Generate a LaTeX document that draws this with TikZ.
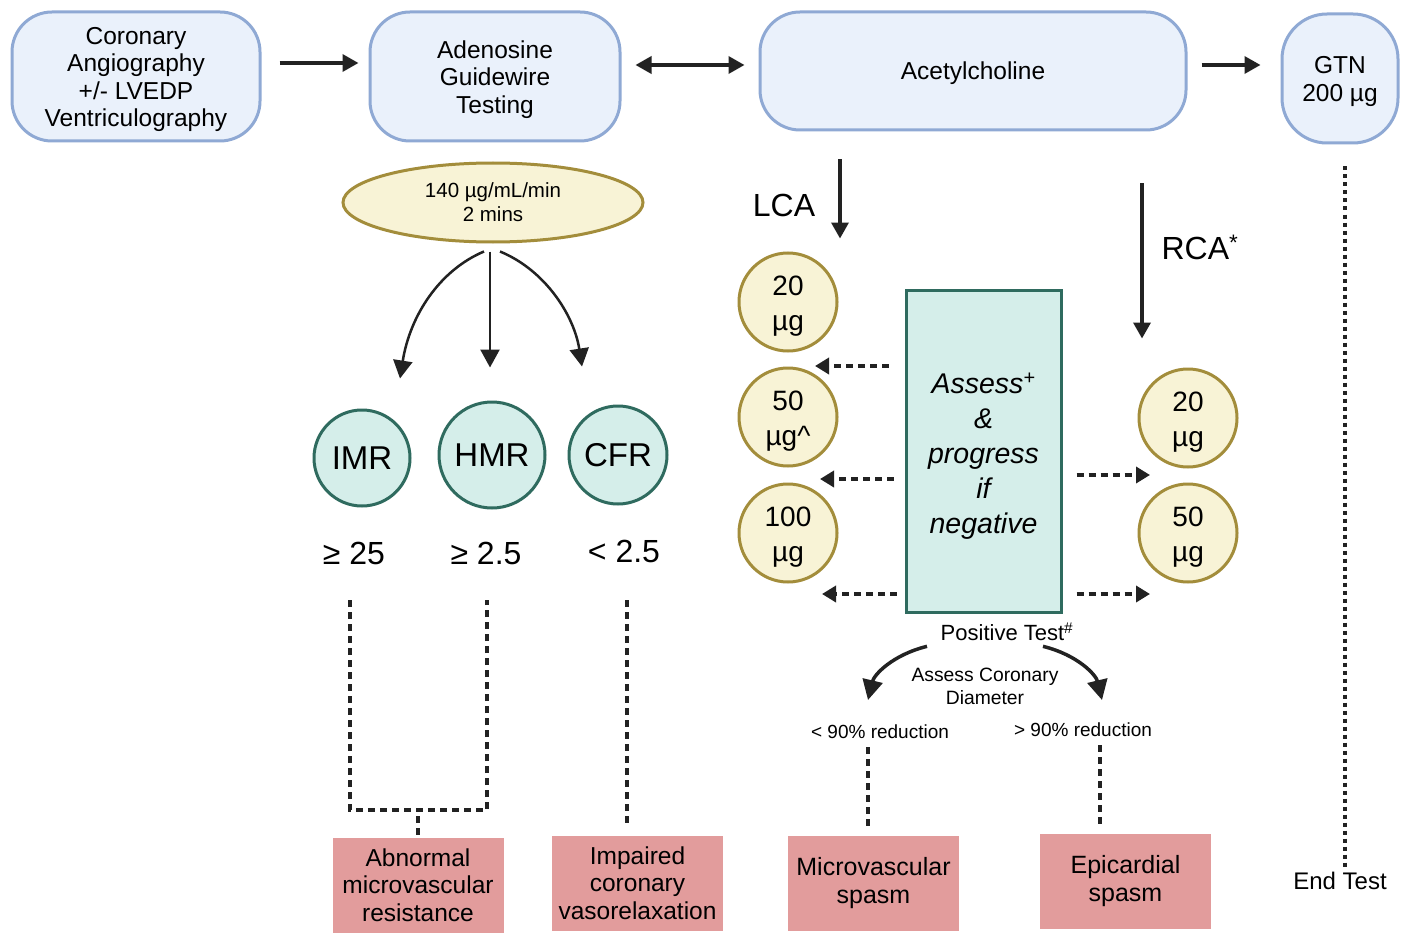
\documentclass[tikz,border=0pt]{standalone}
\usepackage{fontspec}
\setmainfont{Liberation Sans}
\usetikzlibrary{arrows.meta,shapes.geometric}
\definecolor{bfill}{HTML}{EAF1FB}
\definecolor{bdraw}{HTML}{8FA9D4}
\definecolor{yfill}{HTML}{F8F3D6}
\definecolor{ydraw}{HTML}{A38D3B}
\definecolor{tfill}{HTML}{D5EEEA}
\definecolor{tdraw}{HTML}{2F6B5F}
\definecolor{pfill}{HTML}{E29C9C}
\definecolor{ink}{HTML}{222222}
\tikzset{
  bluebox/.style={draw=bdraw, fill=bfill, line width=3pt, rounded corners=40pt, inner sep=0pt},
  yelcirc/.style={circle, draw=ydraw, fill=yfill, line width=3pt, minimum size=98pt, inner sep=0pt},
  dosetxt/.style={align=center, inner sep=0pt, font=\fontsize{28}{35}\selectfont},
  tealcirc/.style={circle, draw=tdraw, fill=tfill, line width=3pt, inner sep=0pt, font=\fontsize{33}{36}\selectfont},
  pinkbox/.style={fill=pfill, minimum width=171pt, minimum height=95pt, align=center, inner sep=0pt},
  arr/.style={ink, line width=3.5pt, -{Triangle[length=16pt,width=17pt]}},
  darr/.style={ink, line width=3.5pt, dash pattern=on 7pt off 5pt, -{Triangle[length=14pt,width=16pt]}},
  dline/.style={ink, line width=3.5pt, dash pattern=on 7pt off 5pt},
  cline/.style={ink, line width=2.5pt, -{Triangle[length=18pt,width=19pt]}},
  lbl/.style={align=center, inner sep=0pt},
  btxt/.style={align=center, inner sep=0pt, font=\fontsize{24.5}{27.5}\selectfont},
}
\begin{document}
\begin{tikzpicture}[x=1pt,y=-1pt]
\path[use as bounding box, fill=white] (0,0) rectangle (1410,944);

% top row
\node[bluebox, minimum width=248pt, minimum height=129pt] (cor) at (136,76.5) {};
\node[btxt] at ([yshift=-3pt]cor.center) {Coronary\\Angiography\\+/- LVEDP\\Ventriculography};
\node[bluebox, minimum width=250pt, minimum height=129pt] (ade) at (495,76.5) {};
\node[btxt] at ([yshift=-3pt]ade.center) {Adenosine\\Guidewire\\Testing};
\node[bluebox, minimum width=426pt, minimum height=118pt] (ach) at (973,71) {};
\node[btxt] at ([yshift=-2pt]ach.center) {Acetylcholine};
\node[bluebox, minimum width=116pt, minimum height=129pt, rounded corners=45pt] (gtn) at (1340,78.5) {};
\node[btxt] at ([yshift=-3pt]gtn.center) {GTN\\200 µg};

\draw[arr, shorten <=18pt, shorten >=10pt] (cor.east |- 0,63) -- (ade.west |- 0,63);
\draw[ink, line width=3.5pt, {Triangle[length=16pt,width=17pt]}-{Triangle[length=16pt,width=17pt]}, shorten <=14pt, shorten >=14pt] (ade.east |- 0,65) -- (ach.west |- 0,65);
\draw[arr, shorten <=14pt, shorten >=20pt] (ach.east |- 0,65) -- (gtn.west |- 0,65);

% adenosine branch
\node[ellipse, draw=ydraw, fill=yfill, line width=3pt, minimum width=300pt, minimum height=79pt, align=center, inner sep=0pt, font=\fontsize{20.5}{24}\selectfont] (ell) at (493,202.5) {140 µg/mL/min\\2 mins};

\node[tealcirc, minimum size=96pt] (imr) at (362,458) {IMR};
\node[tealcirc, minimum size=106pt] (hmr) at (492,455) {HMR};
\node[tealcirc, minimum size=98pt] (cfr) at (618,455) {CFR};

\coordinate (eL) at ([xshift=-9pt,yshift=-8pt]ell.south);
\coordinate (eM) at ([xshift=-3pt,yshift=-8pt]ell.south);
\coordinate (eR) at ([xshift=7pt,yshift=-8pt]ell.south);
\draw[cline] (eL) .. controls (440,270) and (410,315) .. ([yshift=30pt]imr.north -| 400,0);
\draw[cline] (eM) -- ([yshift=33pt]hmr.north -| eM);
\draw[cline] (eR) .. controls (545,270) and (574,315) .. ([yshift=38pt]cfr.north -| 582,0);

\node[lbl, font=\fontsize{32}{36}\selectfont] (v1) at (354,553) {≥ 25};
\node[lbl, font=\fontsize{32}{36}\selectfont] (v2) at (486,553) {≥ 2.5};
\node[lbl, font=\fontsize{32}{36}\selectfont] (v3) at (624,551) {< 2.5};

\node[pinkbox, font=\fontsize{24.5}{27.5}\selectfont] (amr) at (418,885) {Abnormal\\microvascular\\resistance};
\node[pinkbox, font=\fontsize{24.5}{27.5}\selectfont] (icv) at (637.5,883) {Impaired\\coronary\\vasorelaxation};

\coordinate (bl) at (350,810);
\coordinate (br) at (487,810);
\draw[dline] (350,600) -- (bl) -- (br) -- (487,600);
\draw[dline] (amr.north |- 0,816) -- ([yshift=2pt]amr.north);
\draw[dline] (627,600) -- ([yshift=9pt]icv.north -| 627,0);

% acetylcholine branch
\node[yelcirc] (c1) at (788,302) {};
\node[dosetxt] at ([yshift=-4pt]c1.center) {20\\µg};
\node[yelcirc] (c2) at (788,417) {};
\node[dosetxt] at ([yshift=-4pt]c2.center) {50\\µg\textasciicircum};
\node[yelcirc] (c3) at (788,533) {};
\node[dosetxt] at ([yshift=-4pt]c3.center) {100\\µg};
\node[yelcirc] (r1) at (1188,418) {};
\node[dosetxt] at ([yshift=-4pt]r1.center) {20\\µg};
\node[yelcirc] (r2) at (1188,533) {};
\node[dosetxt] at ([yshift=-4pt]r2.center) {50\\µg};

\node[draw=tdraw, fill=tfill, line width=3pt, minimum width=155pt, minimum height=322pt, inner sep=0pt] (asr) at (983.5,451) {};
\node[align=center, inner sep=0pt, font=\fontsize{28.5}{35}\selectfont\itshape] at ([yshift=-5pt]asr.center) {Assess\textsuperscript{+}\\\&\\progress\\if\\negative};

\draw[arr, shorten <=28pt, shorten >=13pt] (ach.south -| 840,0) -- (c1.north -| 840,0);
\node[lbl, font=\fontsize{32}{36}\selectfont] (lca) at (784,205) {LCA};
\draw[arr, shorten <=52pt, shorten >=29pt] (ach.south -| 1142,0) -- (r1.north -| 1142,0);
\node[lbl, font=\fontsize{32}{36}\selectfont] (rca) at (1200,247) {RCA\textsuperscript{*}};

\draw[darr, shorten <=16pt] (asr.west |- 0,366) -- (815,366);
\draw[darr, shorten <=11pt] (asr.west |- 0,479) -- (820,479);
\draw[darr, shorten <=8pt] (asr.west |- 0,594) -- (822,594);
\draw[darr, shorten <=14pt] (asr.east |- 0,475) -- (1150,475);
\draw[darr, shorten <=14pt] (asr.east |- 0,594) -- (1150,594);

\node[lbl, font=\fontsize{22}{24}\selectfont] (pos) at (1007,632) {Positive Test\textsuperscript{\#}};
\node[lbl, font=\fontsize{19.3}{23}\selectfont] (acd) at (985,686) {Assess Coronary\\Diameter};
\node[lbl, font=\fontsize{19}{22}\selectfont] (lt) at (880,732) {< 90\% reduction};
\node[lbl, font=\fontsize{19}{22}\selectfont] (gt) at (1083,730) {> 90\% reduction};

\draw[ink, line width=3.5pt, -{Triangle[length=20pt,width=20pt]}] ([xshift=-80pt,yshift=-5pt]pos.south) .. controls (892,655) and (874,675) .. (868,700);
\draw[ink, line width=3.5pt, -{Triangle[length=20pt,width=20pt]}] ([xshift=36pt,yshift=-5pt]pos.south) .. controls (1078,655) and (1096,675) .. (1102,700);

\node[pinkbox, font=\fontsize{25}{28}\selectfont] (mvs) at (873.5,883) {Microvascular\\spasm};
\node[pinkbox, font=\fontsize{25}{28}\selectfont] (eps) at (1125.5,881.5) {Epicardial\\spasm};

\draw[dline] (lt.south -| 868,0) ++(0,8) -- ([yshift=6pt]mvs.north -| 868,0);
\draw[dline] (gt.south -| 1100,0) ++(0,8) -- ([yshift=6pt]eps.north -| 1100,0);

% GTN end
\node[lbl, font=\fontsize{24}{26}\selectfont] (end) at (1340,881) {End Test};
\draw[ink, line width=3.5pt, dash pattern=on 4pt off 4pt] ([yshift=-22pt]gtn.south -| 1345,0) -- ([yshift=3pt]end.north -| 1345,0);
\end{tikzpicture}
\end{document}
